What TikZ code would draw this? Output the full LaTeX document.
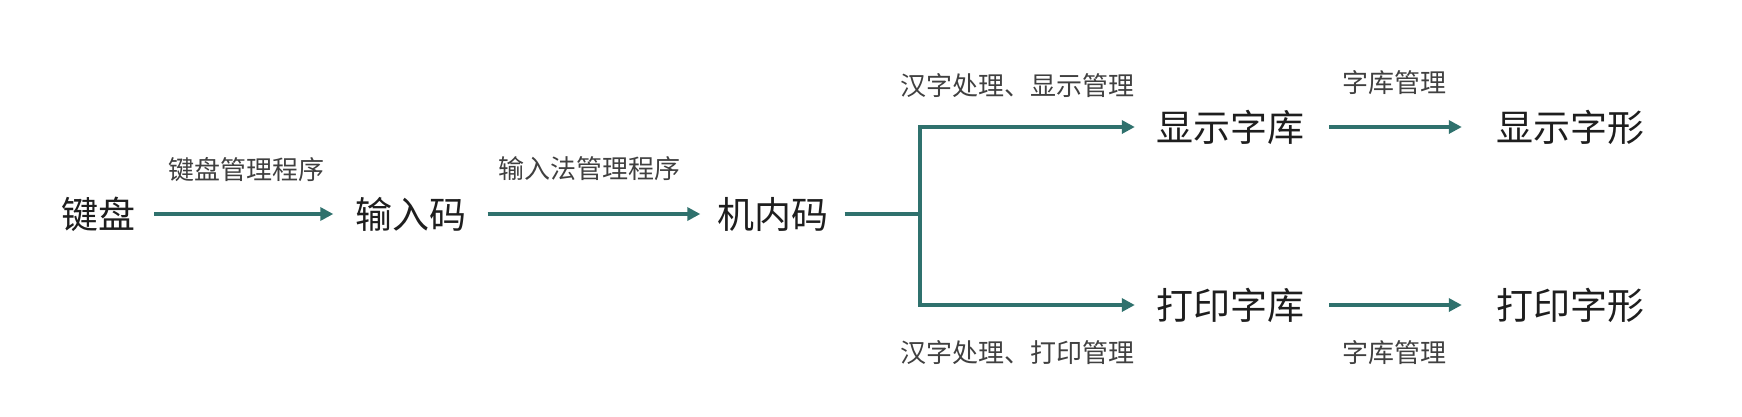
\documentclass[tikz,border=0pt]{standalone}
\usepackage{fontspec}
\setmainfont{Noto Sans CJK SC}
\usetikzlibrary{arrows.meta}
\definecolor{teal1}{HTML}{2F716D}
\definecolor{txt}{HTML}{1E1E1E}
\tikzset{
  big/.style={inner sep=0pt, text=txt, font=\fontsize{37}{40}\selectfont, anchor=center},
  lbl/.style={inner sep=0pt, text=txt!85, font=\fontsize{26}{28}\selectfont, anchor=center},
  conn/.style={draw=teal1, line width=4pt},
  arr/.style={conn, -{Triangle[length=13pt,width=13pt]}},
}
\begin{document}
\begin{tikzpicture}[x=1pt,y=-1pt]
\fill[white] (0,0) rectangle (1742,416);
\useasboundingbox (0,0) rectangle (1742,416);
% main nodes
\node[big] (kb)   at (98,214)   {键盘};
\node[big] (srm)  at (411,214)  {输入码};
\node[big] (jnm)  at (773,214)  {机内码};
\node[big] (xszk) at (1230,127) {显示字库};
\node[big] (dyzk) at (1230,305) {打印字库};
\node[big] (xszx) at (1570,127) {显示字形};
\node[big] (dyzx) at (1570,305) {打印字形};
% labels
\node[lbl] (l1) at (246,170)  {键盘管理程序};
\node[lbl] (l2) at (589,169)  {输入法管理程序};
\node[lbl] (l3) at (1017,86)  {汉字处理、显示管理};
\node[lbl] (l4) at (1017,353) {汉字处理、打印管理};
\node[lbl] (l5) at (1394,83)  {字库管理};
\node[lbl] (l6) at (1394,353) {字库管理};
% connectors
\coordinate (j) at (920,214);
\draw[arr] ([xshift=19pt]kb.east) -- ([xshift=-22pt]srm.west);
\draw[arr] ([xshift=21pt]srm.east) -- ([xshift=-17pt]jnm.west);
\draw[conn] ([xshift=16pt]jnm.east) -- (j);
\draw[arr] (j) |- ([xshift=-21pt]xszk.west);
\draw[arr] (j) |- ([xshift=-21pt]dyzk.west);
\draw[arr] ([xshift=25pt]xszk.east) -- ([xshift=-34pt]xszx.west);
\draw[arr] ([xshift=25pt]dyzk.east) -- ([xshift=-34pt]dyzx.west);
\end{tikzpicture}
\end{document}
